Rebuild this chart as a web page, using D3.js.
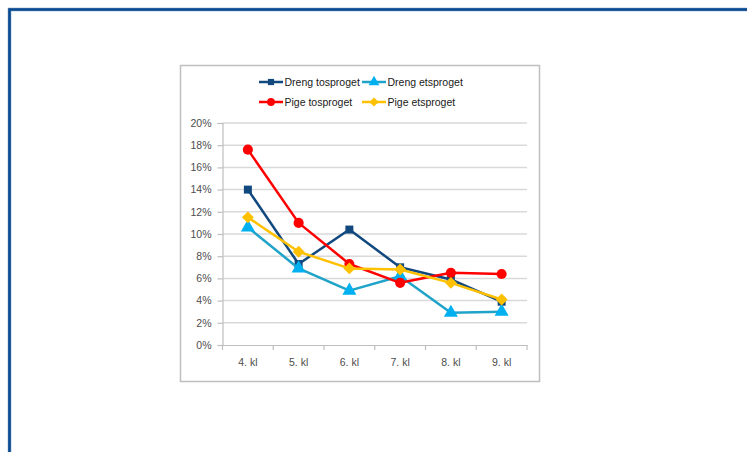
<!DOCTYPE html>
<html>
<head>
<meta charset="utf-8">
<script src="https://cdn.jsdelivr.net/npm/d3@7"></script>
<style>
  html, body { margin: 0; padding: 0; background: #fff; }
  svg { display: block; }
</style>
</head>
<body>
<div id="chart"></div>
<script>
// klassetrin og andele (%)
const categories = ["4. kl", "5. kl", "6. kl", "7. kl", "8. kl", "9. kl"];
const seriesNames = ["Dreng tosproget", "Dreng etsproget", "Pige tosproget", "Pige etsproget"];
const drengTosproget = [14.0, 7.3, 10.4, 7.0, 5.9, 3.9];
const drengEtsproget = [10.6, 6.9, 4.9, 6.2, 2.9, 3.0];
const pigeTosproget = [17.6, 11.0, 7.3, 5.6, 6.5, 6.4];
const pigeEtsproget = [11.5, 8.4, 6.9, 6.8, 5.6, 4.1];
const yTicks = [0, 2, 4, 6, 8, 10, 12, 14, 16, 18, 20];

const lineColors = ["#11497f", "#1fa3c9", "#ff0000", "#ffc000"];
const markColors = ["#11497f", "#00b0f0", "#ff0000", "#ffc000"];
const symbols = [d3.symbolSquare, d3.symbolTriangle, d3.symbolCircle, d3.symbolDiamond2 || d3.symbolDiamond];
const symSizes = [64, 85, 80, 90];

const series = [drengTosproget, drengEtsproget, pigeTosproget, pigeEtsproget]
    .map((vals, i) => ({ name: seriesNames[i], values: vals.map((v, j) => ({ cat: categories[j], v: v })) }));

const width = 747, height = 452;
const font = "'Liberation Sans', Arial, sans-serif";

const svg = d3.select("#chart").append("svg")
    .attr("width", width)
    .attr("height", height);

// ramme (venstre og top)
svg.append("path")
    .attr("d", `M9.5,${height} V9.5 H${width}`)
    .attr("fill", "none")
    .attr("stroke", "#6f9bc8")
    .attr("stroke-width", 3.5);
svg.append("path")
    .attr("d", `M9.5,${height} V9.5 H${width}`)
    .attr("fill", "none")
    .attr("stroke", "#0b4a8e")
    .attr("stroke-width", 2.5);

// diagramboks
svg.append("rect")
    .attr("x", 180.5).attr("y", 65.5)
    .attr("width", 359).attr("height", 316)
    .attr("fill", "#fff")
    .attr("stroke", "#bfbfbf")
    .attr("stroke-width", 1.5);

const x = d3.scaleBand()
    .domain(categories)
    .range([222.5, 527])
    .padding(0);

const y = d3.scaleLinear()
    .domain([0, 20])
    .range([345, 123]);

// gitterlinjer
svg.append("g")
    .selectAll("line")
    .data(yTicks.slice(1))
    .join("line")
    .attr("x1", 222.5).attr("x2", 527)
    .attr("y1", d => y(d)).attr("y2", d => y(d))
    .attr("stroke", "#d9d9d9")
    .attr("stroke-width", 1.5);

// y-akse
const yAxis = svg.append("g")
    .attr("transform", "translate(222.5,0)")
    .call(d3.axisLeft(y).tickValues(yTicks).tickSize(5).tickPadding(6).tickFormat(d => d + "%"));
yAxis.selectAll("path, line").attr("stroke", "#bfbfbf").attr("stroke-width", 1.2);
yAxis.selectAll("text").attr("font-family", font).attr("font-size", 10.5).attr("fill", "#4d4d4d");

// x-akse
const xAxis = svg.append("g")
    .attr("transform", "translate(0,345)")
    .call(d3.axisBottom(x).tickSize(0).tickPadding(14));
xAxis.select(".domain").attr("stroke", "#bfbfbf").attr("stroke-width", 1.2);
xAxis.selectAll("text").attr("font-family", font).attr("font-size", 10.5).attr("fill", "#4d4d4d");
xAxis.append("g")
    .selectAll("line")
    .data(categories.concat([null]))
    .join("line")
    .attr("x1", d => d === null ? 527 : x(d))
    .attr("x2", d => d === null ? 527 : x(d))
    .attr("y1", 0).attr("y2", 5)
    .attr("stroke", "#bfbfbf")
    .attr("stroke-width", 1.2);

// linjer
const line = d3.line()
    .x(d => x(d.cat) + x.bandwidth() / 2)
    .y(d => y(d.v));

const sg = svg.append("g")
    .selectAll("g")
    .data(series)
    .join("g");

sg.append("path")
    .attr("d", d => line(d.values))
    .attr("fill", "none")
    .attr("stroke", (d, i) => lineColors[i])
    .attr("stroke-width", 2.5)
    .attr("stroke-linejoin", "round");

sg.each(function (d, i) {
    d3.select(this).selectAll("path.mark")
        .data(d.values)
        .join("path")
        .attr("class", "mark")
        .attr("transform", p => `translate(${x(p.cat) + x.bandwidth() / 2},${y(p.v)})`)
        .attr("d", d3.symbol().type(symbols[i]).size(symSizes[i]))
        .attr("fill", markColors[i]);
});

// forklaring
const legendPos = [[259, 82], [362, 82], [259, 102], [362, 102]];
const lg = svg.append("g")
    .selectAll("g")
    .data(seriesNames)
    .join("g")
    .attr("transform", (d, i) => `translate(${legendPos[i][0]},${legendPos[i][1]})`);

lg.append("line")
    .attr("x1", 0).attr("x2", 24)
    .attr("stroke", (d, i) => lineColors[i])
    .attr("stroke-width", 2.5);
lg.append("path")
    .attr("transform", "translate(12,0)")
    .attr("d", (d, i) => d3.symbol().type(symbols[i]).size(symSizes[i] * 0.6)())
    .attr("fill", (d, i) => markColors[i]);
lg.append("text")
    .attr("x", 25.5)
    .attr("dy", "0.35em")
    .attr("font-family", font)
    .attr("font-size", 10.5)
    .attr("fill", "#1a1a1a")
    .text(d => d);
</script>
</body>
</html>
